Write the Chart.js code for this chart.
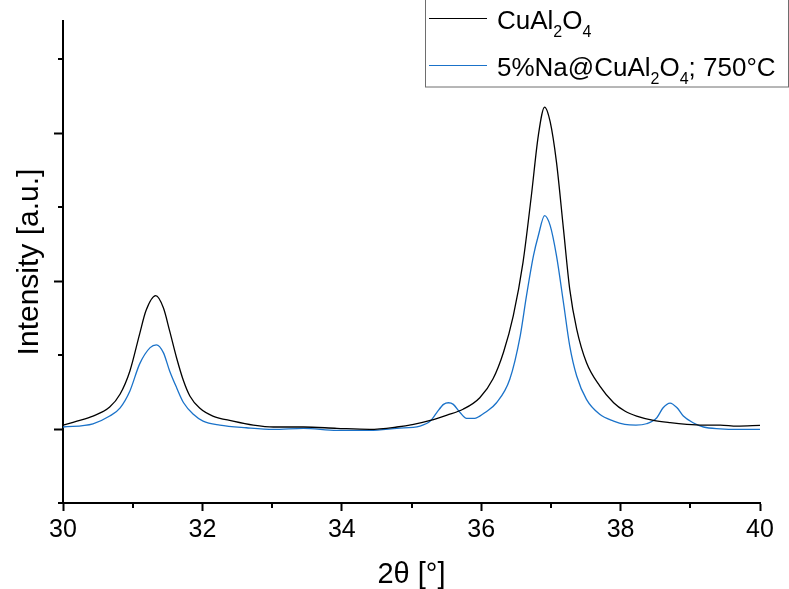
<!DOCTYPE html>
<html>
<head>
<meta charset="utf-8">
<script src="https://cdn.jsdelivr.net/npm/chart.js@4"></script>
<style>
  html, body { margin: 0; padding: 0; background: #fff; }
</style>
</head>
<body>
<canvas id="xrdChart" width="789" height="589"></canvas>
<script>
// 2θ / intensity (arbitrary units)
const blackX = [30.0, 30.2, 30.43, 30.67, 30.82, 30.96, 31.10, 31.19, 31.33, 31.44, 31.53, 31.63, 31.73, 31.82, 31.96,
                32.15, 32.44, 32.73, 33.02, 33.45, 33.93, 34.40, 34.79, 35.03, 35.27, 35.51, 35.74, 35.98, 36.17, 36.32,
                36.46, 36.60, 36.72, 36.82, 36.91, 36.99, 37.08, 37.18, 37.27, 37.37, 37.51, 37.70, 37.90, 38.06, 38.23,
                38.47, 38.71, 38.95, 39.19, 39.43, 39.67, 40.0];
const blackY = [27, 54, 88, 149, 237, 393, 644, 800, 902, 820, 664, 481, 325, 224, 142,
                88, 54, 27, 14, 14, 5, -2, 14, 32, 59, 95, 134, 212, 340, 520,
                766, 1128, 1580, 1987, 2178, 2077, 1805, 1354, 947, 676, 450, 292, 178, 122, 88,
                59, 43, 32, 27, 27, 20, 25];

const blueX = [30.0, 30.43, 30.67, 30.82, 30.96, 31.10, 31.25, 31.34, 31.44, 31.53, 31.63, 31.73, 31.87, 32.01, 32.25,
               32.63, 33.02, 33.45, 33.93, 34.40, 34.79, 35.12, 35.27, 35.36, 35.46, 35.53, 35.60, 35.70, 35.79, 35.91,
               35.98, 36.05, 36.22, 36.41, 36.56, 36.65, 36.75, 36.82, 36.91, 36.99, 37.08, 37.18, 37.27, 37.37, 37.51,
               37.70, 37.90, 38.06, 38.22, 38.37, 38.52, 38.61, 38.71, 38.81, 38.90, 39.04, 39.19, 39.43, 39.67, 40.0];
const blueY = [14, 36, 88, 144, 258, 441, 551, 570, 517, 393, 280, 178, 100, 54, 27,
               9, -2, 5, -9, -9, 5, 20, 54, 110, 167, 178, 167, 110, 73, 73,
               88, 110, 178, 337, 631, 902, 1173, 1309, 1444, 1376, 1173, 856, 563, 359, 201,
               100, 54, 32, 27, 36, 77, 144, 176, 144, 88, 43, 14, 2, -2, -2];

const xMajorTicks = [30, 32, 34, 36, 38, 40];
const xMinorTicks = [31, 33, 35, 37, 39];
const yMajorTicks = [0, 1000, 2000];
const yMinorTicks = [-500, 500, 1500, 2500];

const seriesNames  = ['CuAl2O4', '5%Na@CuAl2O4; 750°C'];
const seriesColors = ['#000000', '#1a72c9'];
// legend text split in [text, isSubscript] parts
const legendParts = [
    [['CuAl', false], ['2', true], ['O', false], ['4', true]],
    [['5%Na@CuAl', false], ['2', true], ['O', false], ['4', true], ['; 750°C', false]]
];

const FONT = '"Liberation Sans", Arial, sans-serif';

const toPoints = (xs, ys) => xs.map((x, i) => ({ x: x, y: ys[i] }));

// small ticks in between the labelled ones
const minorTicks = {
    id: 'minorTicks',
    afterDraw(chart) {
        const { ctx, chartArea, scales } = chart;
        ctx.save();
        ctx.strokeStyle = '#000';
        ctx.lineWidth = 2;
        ctx.beginPath();
        xMinorTicks.forEach(v => {
            const px = Math.round(scales.x.getPixelForValue(v));
            ctx.moveTo(px, chartArea.bottom);
            ctx.lineTo(px, chartArea.bottom + 5);
        });
        yMinorTicks.forEach(v => {
            const py = Math.round(scales.y.getPixelForValue(v));
            ctx.moveTo(chartArea.left, py);
            ctx.lineTo(chartArea.left - 5, py);
        });
        ctx.stroke();
        ctx.restore();
    }
};

// boxed legend with subscripts, top right
const boxLegend = {
    id: 'boxLegend',
    afterDraw(chart) {
        const ctx = chart.ctx;
        ctx.save();
        ctx.fillStyle = '#fff';
        ctx.fillRect(425, 0, 364, 87);
        ctx.strokeStyle = '#6e6e6e';
        ctx.lineWidth = 1;
        ctx.strokeRect(425.5, -0.5, 363, 87.5);

        legendParts.forEach((parts, i) => {
            const ly = 18 + i * 47;
            ctx.strokeStyle = seriesColors[i];
            ctx.lineWidth = 1.2;
            ctx.beginPath();
            ctx.moveTo(429, ly + 0.5);
            ctx.lineTo(487, ly + 0.5);
            ctx.stroke();

            let tx = 497;
            const base = ly + 11;
            ctx.fillStyle = '#000';
            ctx.textBaseline = 'alphabetic';
            parts.forEach(([txt, sub]) => {
                ctx.font = (sub ? '16px ' : '26px ') + FONT;
                ctx.fillText(txt, tx, sub ? base + 8 : base);
                tx += ctx.measureText(txt).width;
            });
        });
        ctx.restore();
    }
};

new Chart(document.getElementById('xrdChart'), {
    type: 'line',
    data: {
        datasets: [
            {
                label: seriesNames[0],
                data: toPoints(blackX, blackY),
                borderColor: seriesColors[0],
                borderWidth: 1.3,
                pointRadius: 0,
                fill: false,
                cubicInterpolationMode: 'monotone',
            },
            {
                label: seriesNames[1],
                data: toPoints(blueX, blueY),
                borderColor: seriesColors[1],
                borderWidth: 1.3,
                pointRadius: 0,
                fill: false,
                cubicInterpolationMode: 'monotone',
            }
        ]
    },
    options: {
        responsive: false,
        animation: false,
        layout: { padding: { top: 21, right: 29, left: 0, bottom: 0 } },
        plugins: {
            legend: { display: false },
            tooltip: { enabled: false },
        },
        scales: {
            x: {
                type: 'linear',
                min: 30,
                max: 40,
                afterBuildTicks: s => { s.ticks = xMajorTicks.map(v => ({ value: v })); },
                afterFit: s => { s.height = 86; },
                border: { display: true, color: '#000', width: 2 },
                grid: { drawOnChartArea: false, drawTicks: true, tickLength: 8, tickColor: '#000', tickWidth: 2 },
                ticks: { color: '#000', padding: 4, font: { family: FONT, size: 25 } },
                title: {
                    display: true,
                    text: '2θ [°]',
                    color: '#000',
                    padding: { top: 0, bottom: -3 },
                    font: { family: FONT, size: 29 }
                }
            },
            y: {
                type: 'linear',
                min: -500,
                max: 2760,
                afterBuildTicks: s => { s.ticks = yMajorTicks.map(v => ({ value: v })); },
                afterFit: s => { s.width = 63; },
                border: { display: true, color: '#000', width: 2 },
                grid: { drawOnChartArea: false, drawTicks: true, tickLength: 9, tickColor: '#000', tickWidth: 2 },
                ticks: { display: false },
                title: {
                    display: true,
                    text: 'Intensity [a.u.]',
                    color: '#000',
                    padding: { top: 12, bottom: 0 },
                    font: { family: FONT, size: 30 }
                }
            }
        }
    },
    plugins: [minorTicks, boxLegend]
});
</script>
</body>
</html>
